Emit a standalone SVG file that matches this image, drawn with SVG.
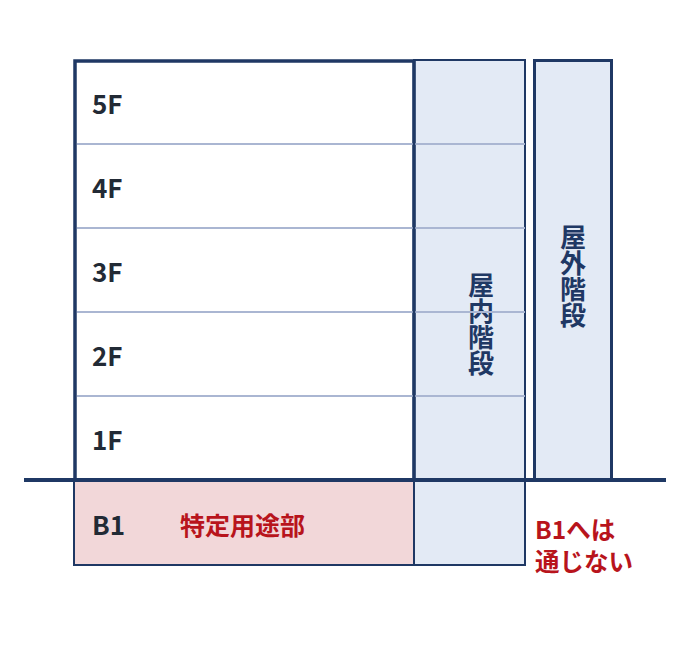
<svg xmlns="http://www.w3.org/2000/svg" width="690" height="645" viewBox="0 0 690 645">
<style>
.f{font-family:"Noto Sans CJK JP","Noto Sans",sans-serif;font-weight:bold;font-size:26px;fill:#222a35}
.r{font-family:"Noto Sans CJK JP","Noto Sans",sans-serif;font-weight:bold;font-size:25px;fill:#b8141c}
.n{font-family:"Noto Sans CJK JP","Noto Sans",sans-serif;font-weight:bold;font-size:24.5px;fill:#b8141c}
.v{font-family:"Noto Sans CJK JP",sans-serif;font-weight:bold;font-size:26px;fill:#1f3864;writing-mode:vertical-rl;text-anchor:middle}
.fl{stroke:#aab6d2;stroke-width:2}
</style>
<rect width="690" height="645" fill="#fff"/>
<g id="indoor-stair">
<rect x="414" y="60" width="111" height="505" fill="#e3eaf5" stroke="#1f3864" stroke-width="2"/>
<text class="v" x="481" y="324">屋内階段</text>
</g>
<g id="outdoor-stair">
<rect x="534.5" y="60.5" width="77" height="419" fill="#e3eaf5" stroke="#1f3864" stroke-width="3"/>
<text class="v" x="573" y="276">屋外階段</text>
</g>
<g id="building">
<rect x="75" y="61" width="339" height="419" fill="#fff" stroke="#1f3864" stroke-width="3.5"/>
</g>
<g id="floors">
<line class="fl" x1="77" y1="144" x2="525" y2="144"/>
<line class="fl" x1="77" y1="228" x2="525" y2="228"/>
<line class="fl" x1="77" y1="312" x2="525" y2="312"/>
<line class="fl" x1="77" y1="396" x2="525" y2="396"/>
<line x1="414" y1="60" x2="414" y2="480" stroke="#1f3864" stroke-width="2.5"/>
<text class="f" x="92" y="114">5F</text>
<text class="f" x="92" y="198">4F</text>
<text class="f" x="92" y="282">3F</text>
<text class="f" x="92" y="366">2F</text>
<text class="f" x="92" y="450">1F</text>
</g>
<g id="b1">
<rect x="74" y="480" width="340" height="85" fill="#f2d7d9" stroke="#1f3864" stroke-width="2"/>
<text class="f" x="92" y="535">B1</text>
<text class="r" x="180" y="535">特定用途部</text>
</g>
<g id="ground">
<line x1="24" y1="480" x2="666" y2="480" stroke="#1f3864" stroke-width="4"/>
</g>
<g id="note">
<text class="n" x="535" y="539">B1へは</text>
<text class="n" x="535" y="571">通じない</text>
</g>
</svg>
